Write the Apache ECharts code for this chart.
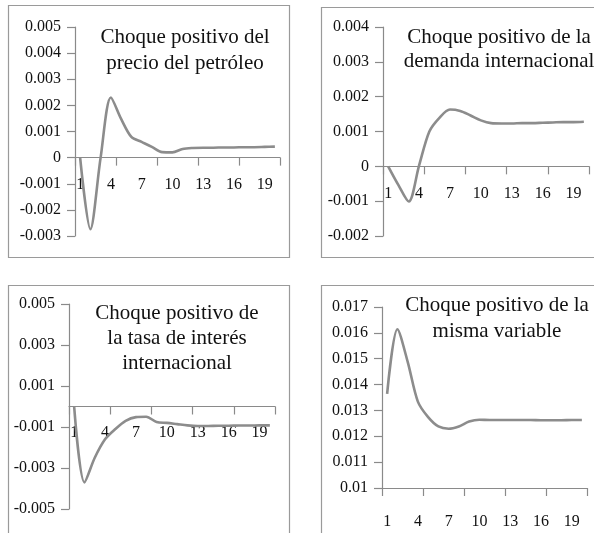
<!DOCTYPE html>
<html>
<head>
<meta charset="utf-8">
<script src="https://cdn.jsdelivr.net/npm/echarts@6/dist/echarts.min.js"></script>
<style>
html,body{margin:0;padding:0;background:#fff;}
#chart{width:594px;height:533px;}
</style>
</head>
<body>
<div id="chart"></div>
<script>
// Periods (categories)
const periods = ['1','2','3','4','5','6','7','8','9','10','11','12','13','14','15','16','17','18','19','20'];

// Panel titles
const title1 = 'Choque positivo del\nprecio del petróleo';
const title2 = 'Choque positivo de la\ndemanda internacional';
const title3 = 'Choque positivo de\nla tasa de interés\ninternacional';
const title4 = 'Choque positivo de la\nmisma variable';

// Series values (impulse responses)
const oilShock = [0, -0.00274, 0.0000, 0.0023, 0.00148, 0.00079, 0.0006, 0.00041, 0.00021, 0.0002, 0.00033, 0.00037, 0.00038, 0.00038, 0.00039, 0.00039, 0.0004, 0.0004, 0.00041, 0.00042];
const demandShock = [0, -0.00054, -0.00101, 0.00002, 0.001, 0.0014, 0.00163, 0.00159, 0.00146, 0.00132, 0.00124, 0.00123, 0.00123, 0.00124, 0.00124, 0.00125, 0.00126, 0.00127, 0.00127, 0.00128];
const rateShock = [0, -0.0037, -0.0025, -0.0016, -0.0011, -0.0007, -0.00052, -0.0005, -0.00076, -0.0008, -0.00086, -0.00092, -0.00095, -0.00095, -0.00094, -0.00094, -0.00093, -0.00093, -0.00092, -0.00092];
const ownShock = [0.01364, 0.01614, 0.01489, 0.01334, 0.01274, 0.01238, 0.01229, 0.01238, 0.01257, 0.01264, 0.01263, 0.01263, 0.01263, 0.01263, 0.01263, 0.01262, 0.01262, 0.01262, 0.01263, 0.01263];

// Y tick labels per panel
const yTicks1 = [-0.003, -0.002, -0.001, 0, 0.001, 0.002, 0.003, 0.004, 0.005];
const yTicks2 = [-0.002, -0.001, 0, 0.001, 0.002, 0.003, 0.004];
const yTicks3 = [-0.005, -0.003, -0.001, 0.001, 0.003, 0.005];
const yTicks4 = [0.01, 0.011, 0.012, 0.013, 0.014, 0.015, 0.016, 0.017];

const FONT = 'Liberation Serif';
const AXIS_COLOR = '#8a8a8a';
const LINE_COLOR = '#8c8c8c';

const panels = [
  {data: oilShock, ticks: yTicks1, title: title1, grid: {left: 75, top: 27, width: 205, height: 209}, xMargin: 19, tx: 185, ty: 24, lh: 26},
  {data: demandShock, ticks: yTicks2, title: title2, grid: {left: 383, top: 27, width: 206, height: 209}, xMargin: 19, tx: 499, ty: 25, lh: 24},
  {data: rateShock, ticks: yTicks3, title: title3, grid: {left: 69, top: 304, width: 206, height: 205}, xMargin: 18, tx: 177, ty: 301, lh: 25},
  {data: ownShock, ticks: yTicks4, title: title4, grid: {left: 382, top: 307, width: 205, height: 181}, xMargin: 26, tx: 497, ty: 292, lh: 26}
];

// x axis sits on the zero line when zero lies inside the value range
function zeroOffset(p) {
  const min = p.ticks[0], max = p.ticks[p.ticks.length - 1];
  if (min < 0 && max > 0) return -p.grid.height * (0 - min) / (max - min);
  return 0;
}

const frames = [
  {x: 8, y: 5, w: 281, h: 252},
  {x: 321, y: 7, w: 290, h: 250},
  {x: 8, y: 285, w: 281, h: 260},
  {x: 321, y: 285, w: 290, h: 260}
];

const chart = echarts.init(document.getElementById('chart'), null, {renderer: 'canvas'});

const option = {
  backgroundColor: '#fff',
  animation: false,
  grid: panels.map(p => Object.assign({outerBoundsMode: 'none', containLabel: false}, p.grid)),
  xAxis: panels.map((p, i) => ({
    type: 'category',
    gridIndex: i,
    data: periods,
    boundaryGap: true,
    position: 'bottom',
    offset: zeroOffset(p),
    axisLine: {show: true, onZero: false, lineStyle: {color: AXIS_COLOR, width: 1.2}},
    axisTick: {show: true, interval: 3, length: 8, lineStyle: {color: AXIS_COLOR, width: 1.2}},
    axisLabel: {interval: 2, margin: p.xMargin, fontFamily: FONT, fontSize: 16, color: '#111'},
    splitLine: {show: false}
  })),
  yAxis: panels.map((p, i) => ({
    type: 'value',
    gridIndex: i,
    min: p.ticks[0],
    max: p.ticks[p.ticks.length - 1],
    interval: +(p.ticks[1] - p.ticks[0]).toFixed(6),
    axisLine: {show: true, lineStyle: {color: AXIS_COLOR, width: 1.2}},
    axisTick: {show: true, length: 8, lineStyle: {color: AXIS_COLOR, width: 1.2}},
    axisLabel: {margin: 14, fontFamily: FONT, fontSize: 16, color: '#111'},
    splitLine: {show: false}
  })),
  series: panels.map((p, i) => ({
    type: 'line',
    xAxisIndex: i,
    yAxisIndex: i,
    data: p.data,
    smooth: 0.3,
    showSymbol: false,
    symbol: 'none',
    clip: false,
    lineStyle: {color: LINE_COLOR, width: 2.6},
    z: 3
  })),
  graphic: [
    ...frames.map(f => ({
      type: 'rect',
      z: -1,
      shape: {x: f.x + 0.5, y: f.y + 0.5, width: f.w, height: f.h},
      style: {fill: 'none', stroke: '#9a9a9a', lineWidth: 1.2}
    })),
    ...panels.map(p => ({
      type: 'text',
      x: p.tx,
      y: p.ty,
      z: 10,
      style: {
        text: p.title,
        fontFamily: FONT,
        fontSize: 21,
        lineHeight: p.lh,
        fill: '#111',
        align: 'center',
        verticalAlign: 'top'
      }
    }))
  ]
};

chart.setOption(option);
</script>
</body>
</html>
